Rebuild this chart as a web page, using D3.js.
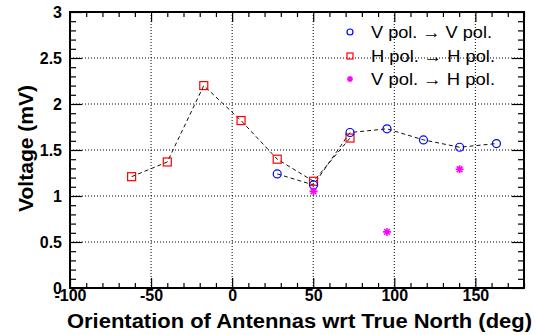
<!doctype html>
<html>
<head>
<meta charset="utf-8">
<script src="https://d3js.org/d3.v7.min.js"></script>
<style>
  body { margin: 0; background: #fff; }
  text { font-family: "Liberation Sans", Arial, sans-serif; }
</style>
</head>
<body>
<svg width="536" height="335" id="chart"></svg>
<script>
// data
var hhAngle = [-62, -40, -17.5, 5.5, 27.8, 50.2, 72.7];
var hhVolt  = [1.21, 1.37, 2.20, 1.82, 1.40, 1.16, 1.63];
var vvAngle = [27.8, 50.2, 72.7, 95.5, 118, 140.3, 163];
var vvVolt  = [1.24, 1.12, 1.69, 1.73, 1.61, 1.53, 1.57];
var vhAngle = [50.2, 95.5, 140.3];
var vhVolt  = [1.05, 0.61, 1.29];
var xMajor = [-100, -50, 0, 50, 100, 150];
var yMajor = [0, 0.5, 1, 1.5, 2, 2.5, 3];
var legendLabels = ["V pol. \u2192 V pol.", "H pol. \u2192 H pol.", "V pol. \u2192 H pol."];

var svg = d3.select("svg");
var padL = 70, padR = 524, padT = 12, padB = 288;

var x = d3.scaleLinear().domain([-100, 180]).range([padL, padR]);
var y = d3.scaleLinear().domain([0, 3]).range([padB, padT]);

var xMinor = d3.range(-100, 181, 10).filter(function (v) { return v % 50 !== 0; });
var yMinor = d3.range(0, 31, 1).map(function (v) { return v / 10; })
  .filter(function (v) { return Math.round(v * 10) % 5 !== 0; });

// grid
svg.append("g").selectAll("line").data(xMajor.slice(1)).enter().append("line")
  .attr("x1", function (d) { return x(d); }).attr("x2", function (d) { return x(d); })
  .attr("y1", padT).attr("y2", padB)
  .attr("stroke", "#000").attr("stroke-width", 1).attr("stroke-dasharray", "1,2");
svg.append("g").selectAll("line").data(yMajor.slice(1, -1)).enter().append("line")
  .attr("y1", function (d) { return y(d); }).attr("y2", function (d) { return y(d); })
  .attr("x1", padL).attr("x2", padR)
  .attr("stroke", "#000").attr("stroke-width", 1).attr("stroke-dasharray", "1,2");

function styleAxis(g) {
  g.select(".domain").remove();
  g.selectAll("line").attr("stroke", "#000").attr("stroke-width", 1.2);
  g.selectAll("text").attr("font-family", "Liberation Sans, Arial, sans-serif")
    .attr("font-weight", "bold").attr("font-size", 16).attr("fill", "#000");
}
var fmt = function (d) { return String(d); };

// bottom axis
svg.append("g").attr("transform", "translate(0," + padB + ")")
  .call(d3.axisBottom(x).tickValues(xMajor).tickSize(-10).tickPadding(2).tickFormat(fmt))
  .call(styleAxis);
svg.append("g").attr("transform", "translate(0," + padB + ")")
  .call(d3.axisBottom(x).tickValues(xMinor).tickSize(-5).tickFormat(""))
  .call(styleAxis);
// top axis
svg.append("g").attr("transform", "translate(0," + padT + ")")
  .call(d3.axisTop(x).tickValues(xMajor).tickSize(-10).tickFormat(""))
  .call(styleAxis);
svg.append("g").attr("transform", "translate(0," + padT + ")")
  .call(d3.axisTop(x).tickValues(xMinor).tickSize(-5).tickFormat(""))
  .call(styleAxis);
// left axis
svg.append("g").attr("transform", "translate(" + padL + ",0)")
  .call(d3.axisLeft(y).tickValues(yMajor).tickSize(-12).tickPadding(8).tickFormat(fmt))
  .call(styleAxis);
svg.append("g").attr("transform", "translate(" + padL + ",0)")
  .call(d3.axisLeft(y).tickValues(yMinor).tickSize(-6).tickFormat(""))
  .call(styleAxis);
// right axis
svg.append("g").attr("transform", "translate(" + padR + ",0)")
  .call(d3.axisRight(y).tickValues(yMajor).tickSize(-12).tickFormat(""))
  .call(styleAxis);
svg.append("g").attr("transform", "translate(" + padR + ",0)")
  .call(d3.axisRight(y).tickValues(yMinor).tickSize(-6).tickFormat(""))
  .call(styleAxis);

// frame
svg.append("rect").attr("x", padL).attr("y", padT)
  .attr("width", padR - padL).attr("height", padB - padT)
  .attr("fill", "none").attr("stroke", "#000").attr("stroke-width", 2);

// dashed lines
var line = d3.line().x(function (d) { return x(d[0]); }).y(function (d) { return y(d[1]); });
var hh = d3.zip(hhAngle, hhVolt), vv = d3.zip(vvAngle, vvVolt), vh = d3.zip(vhAngle, vhVolt);
[hh, vv].forEach(function (pts) {
  svg.append("path").attr("d", line(pts)).attr("fill", "none")
    .attr("stroke", "#111").attr("stroke-width", 1).attr("stroke-dasharray", "4,3");
});

// markers
function star(r) {
  var q = r * 0.72;
  return "M" + (-r) + ",0L" + r + ",0M0," + (-r) + "L0," + r +
    "M" + (-q) + "," + (-q) + "L" + q + "," + q + "M" + (-q) + "," + q + "L" + q + "," + (-q);
}
function drawSquares(g, pts, s) {
  g.selectAll(null).data(pts).enter().append("rect")
    .attr("x", function (d) { return x(d[0]) - s / 2; })
    .attr("y", function (d) { return y(d[1]) - s / 2; })
    .attr("width", s).attr("height", s)
    .attr("fill", "none").attr("stroke", "#f00").attr("stroke-width", 1.2);
}
function drawCircles(g, pts, r) {
  g.selectAll(null).data(pts).enter().append("circle")
    .attr("cx", function (d) { return x(d[0]); })
    .attr("cy", function (d) { return y(d[1]); })
    .attr("r", r).attr("fill", "none").attr("stroke", "#00f").attr("stroke-width", 1.2);
}
function drawStars(g, pts, r) {
  g.selectAll(null).data(pts).enter().append("path")
    .attr("transform", function (d) { return "translate(" + x(d[0]) + "," + y(d[1]) + ")"; })
    .attr("d", star(r)).attr("fill", "none").attr("stroke", "#f0f").attr("stroke-width", 1.6);
}
var marks = svg.append("g");
drawSquares(marks, hh, 8);
drawCircles(marks, vv, 4);
drawStars(marks, vh, 4);

// legend
var legend = svg.append("g");
var rowsY = [32, 56, 79];
var lx = 350;
legend.append("circle").attr("cx", lx).attr("cy", rowsY[0]).attr("r", 3)
  .attr("fill", "none").attr("stroke", "#00f").attr("stroke-width", 1.2);
legend.append("rect").attr("x", lx - 3).attr("y", rowsY[1] - 3).attr("width", 6).attr("height", 6)
  .attr("fill", "none").attr("stroke", "#f00").attr("stroke-width", 1.2);
legend.append("path").attr("transform", "translate(" + lx + "," + rowsY[2] + ")")
  .attr("d", star(3)).attr("fill", "none").attr("stroke", "#f0f").attr("stroke-width", 1.5);
legend.selectAll("text").data(legendLabels).enter().append("text")
  .attr("x", 371).attr("y", function (d, i) { return rowsY[i]; })
  .attr("dy", "0.36em").attr("font-size", 17).attr("fill", "#000")
  .attr("textLength", function (d, i) { return i === 0 ? 121 : 124; })
  .attr("lengthAdjust", "spacingAndGlyphs")
  .text(function (d) { return d; });

// axis titles
svg.append("text").attr("x", 67).attr("y", 328)
  .attr("font-weight", "bold").attr("font-size", 20)
  .attr("textLength", 465).attr("lengthAdjust", "spacingAndGlyphs")
  .text("Orientation of Antennas wrt True North (deg)");
svg.append("text").attr("transform", "translate(33,148.5)rotate(-90)")
  .attr("text-anchor", "middle").attr("font-weight", "bold").attr("font-size", 20)
  .attr("textLength", 127).attr("lengthAdjust", "spacingAndGlyphs")
  .text("Voltage (mV)");
</script>
</body>
</html>
